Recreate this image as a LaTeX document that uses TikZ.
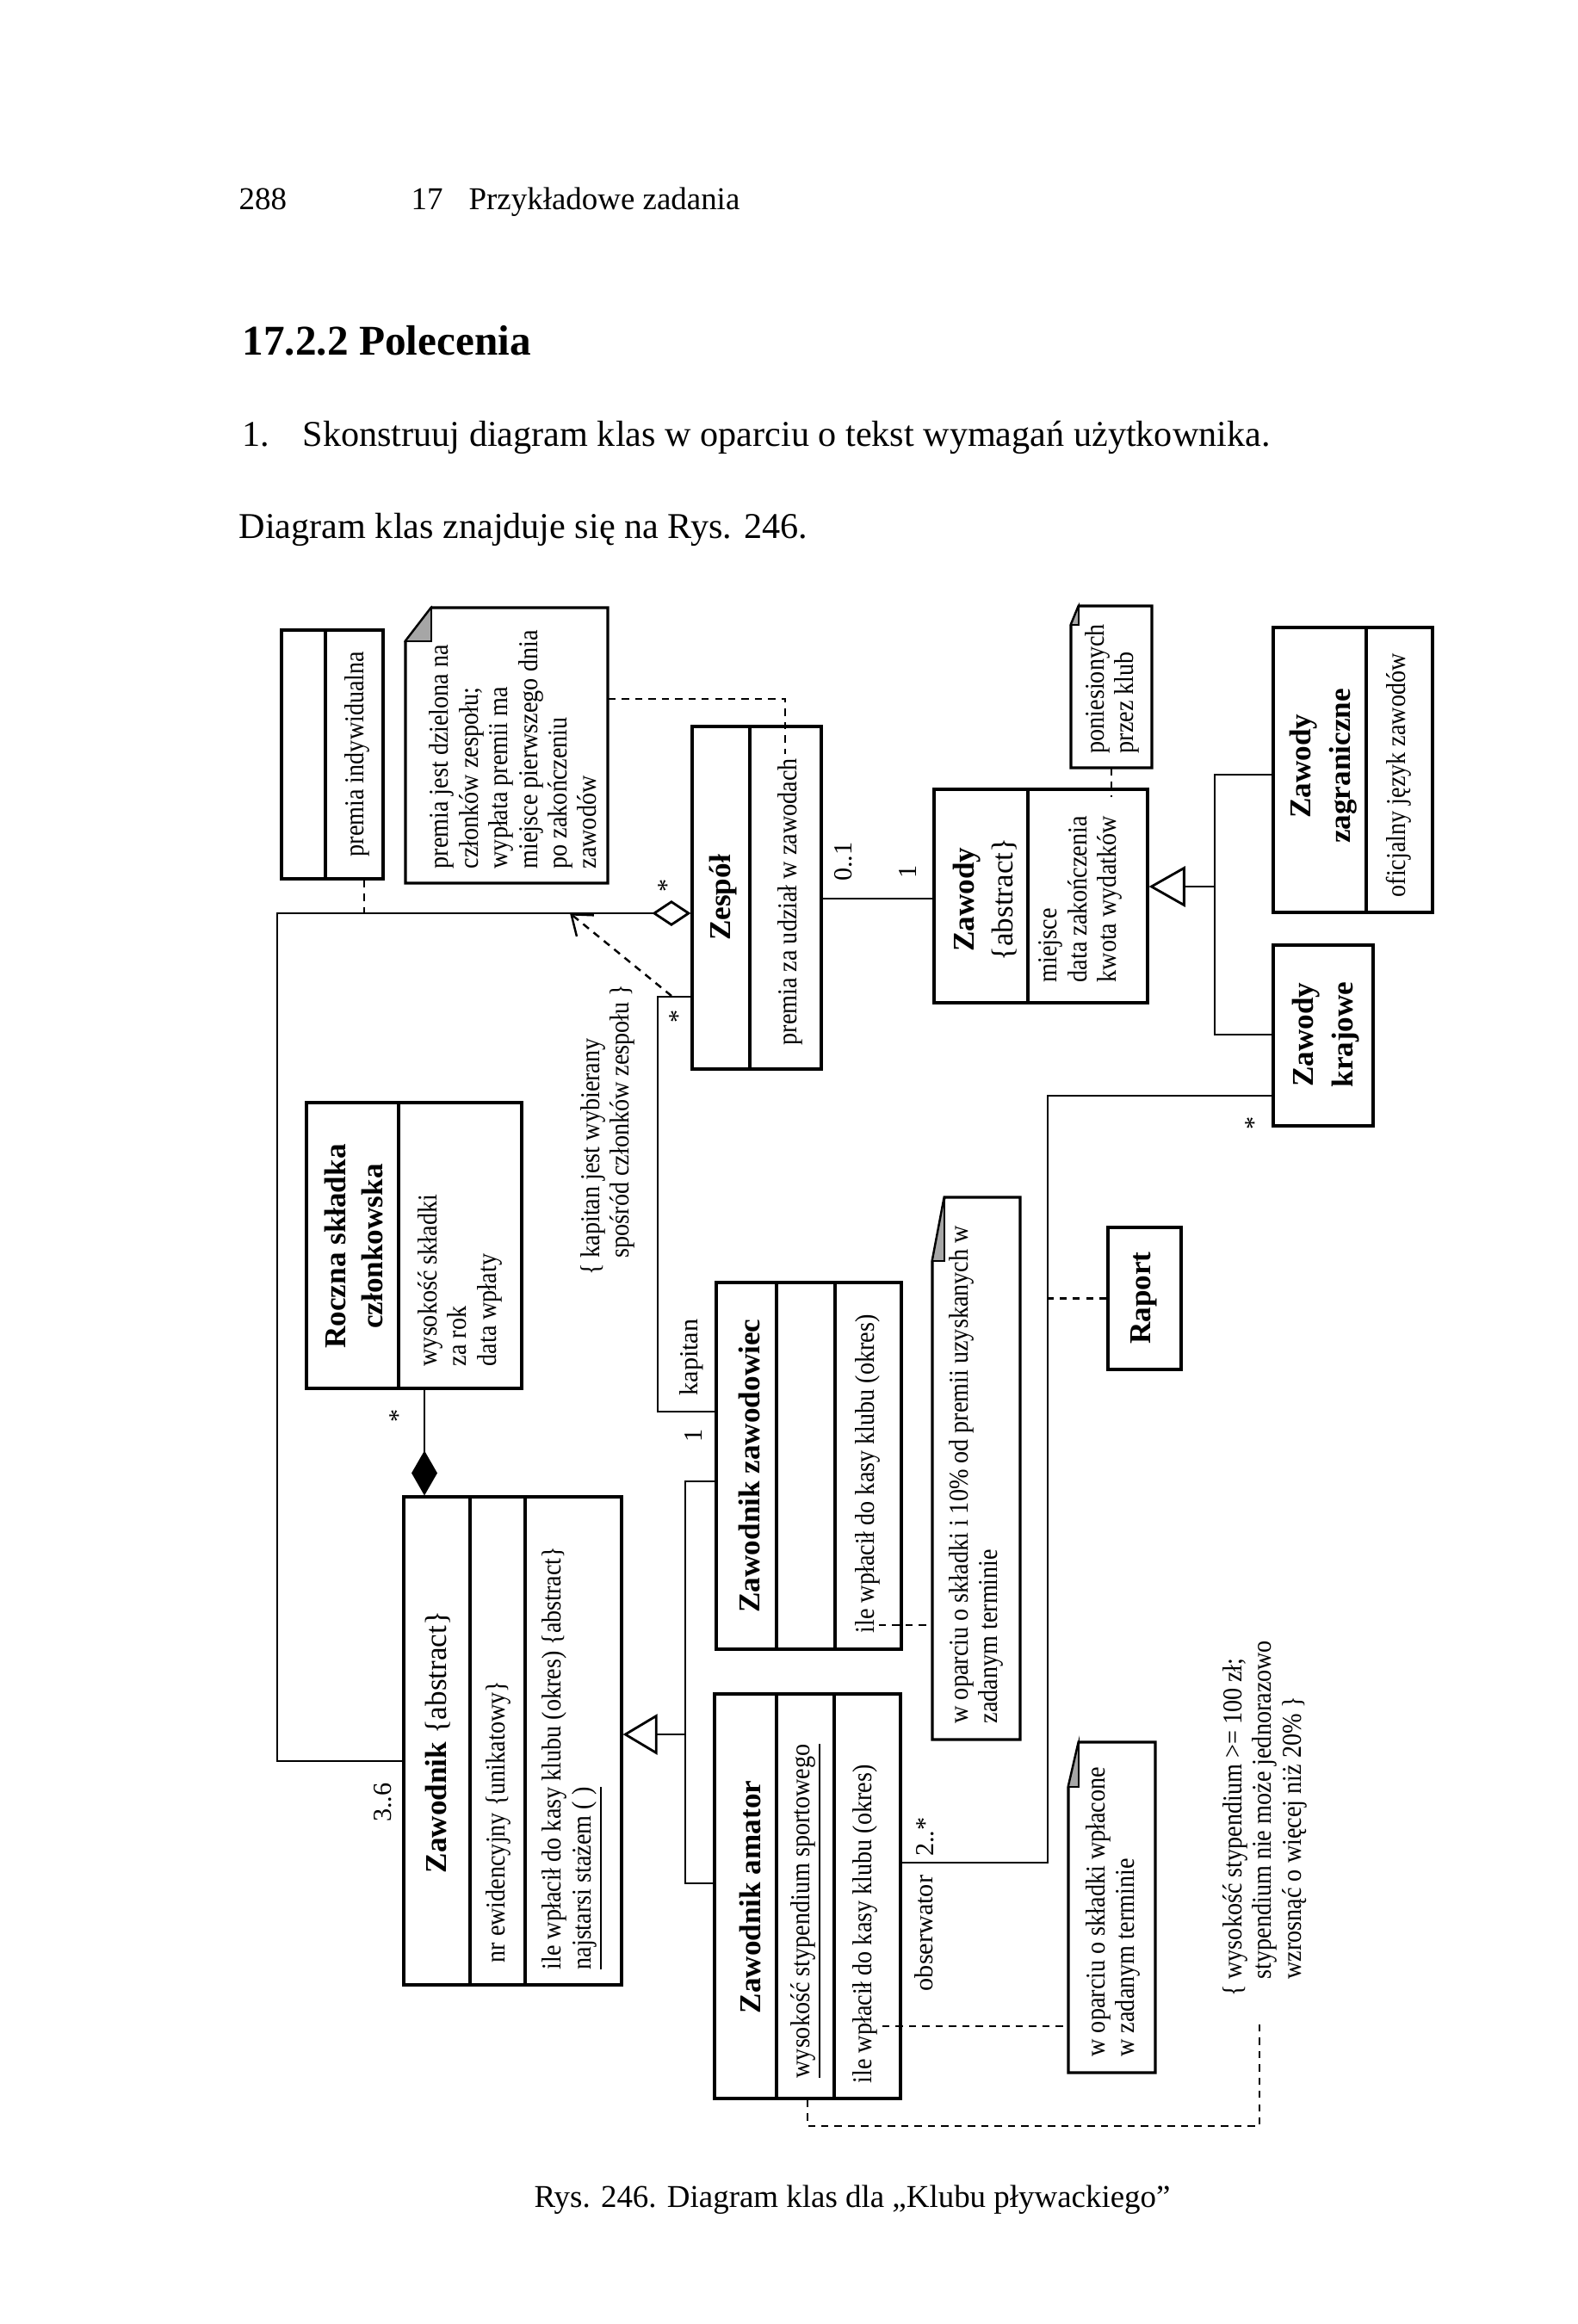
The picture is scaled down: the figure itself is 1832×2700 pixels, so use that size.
\documentclass[tikz,border=0pt]{standalone}
\usepackage{fontspec}
\setmainfont{Liberation Serif}
\usetikzlibrary{arrows.meta,fit}

\tikzset{
  classbox/.style={draw,line width=0.9pt,inner sep=0pt},
  notebody/.style={draw,line width=0.9pt,fill=white},
  cname/.style={rotate=90,inner sep=0pt,align=center,
    font=\fontsize{10}{13}\selectfont\bfseries},
  attr/.style={rotate=90,xscale=0.89,inner sep=0pt,anchor=west,align=left,
    font=\fontsize{9}{9.8}\selectfont},
  mult/.style={rotate=90,inner sep=0pt,font=\fontsize{8.6}{9.8}\selectfont},
  link/.style={line width=0.8pt},
  dashlink/.style={line width=0.7pt,dash pattern=on 2.4pt off 2pt},
  pagetext/.style={inner sep=0pt,anchor=base west,font=\fontsize{12}{14}\selectfont},
}
% class box from two corners (pixel units)
\newcommand{\umlclass}[5]{\node[classbox,fit={(#2,#3) (#4,#5)}] (#1) {};}
% note with folded corner
\newcommand{\umlnote}[7]{%
  \node[inner sep=0pt,fit={(#2,#3) (#4,#5)}] (#1) {};
  \draw[notebody] (#2,#3+#7) -- (#2+#6,#3) -- (#4,#3) -- (#4,#5) -- (#2,#5) -- cycle;
  \filldraw[fill=black!35,line width=0.5pt] (#2,#3+#7) -- (#2+#6,#3) -- (#2+#6,#3+#7) -- cycle;}

\begin{document}
\begin{tikzpicture}[x=0.01cm,y=-0.01cm]
\path[fill=white] (0,0) rectangle (1832,2700);
\useasboundingbox (0,0) rectangle (1832,2700);

% page text
\node[pagetext,font=\fontsize{10.5}{12}\selectfont] (pageno) at (277,244) {288};
\node[pagetext,font=\fontsize{10.5}{12}\selectfont] (runhead) at (477,244) {17\hspace{3mm}Przykładowe zadania};
\node[pagetext,font=\fontsize{14}{17}\selectfont\bfseries] (section) at (281,412) {17.2.2 Polecenia};
\node[pagetext] (itemno) at (281,518) {1.};
\node[pagetext] (item) at (351,518) {Skonstruuj diagram klas w oparciu o tekst wymagań użytkownika.};
\node[pagetext] (ref) at (277,625) {Diagram klas znajduje się na Rys. 246.};
\node[pagetext,anchor=base,font=\fontsize{10.5}{12}\selectfont] (caption) at (990,2564) {Rys. 246. Diagram klas dla „Klubu pływackiego”};

% classes
\umlclass{premia}{327}{732}{445}{1021}
\draw[classbox] (378,732) -- (378,1021);
\node[attr,anchor=center] (premia-a) at (415,876) {premia indywidualna};

\umlclass{zespol}{804}{844}{954}{1242}
\draw[classbox] (871,844) -- (871,1242);
\node[cname] (zespol-n) at (840,1043) {Zespół};
\node[attr] (zespol-a) at (918,1215) {premia za udział w zawodach};

\umlclass{zawody}{1085}{917}{1333}{1165}
\draw[classbox] (1194,917) -- (1194,1165);
\node[cname] (zawody-n) at (1144,1045) {Zawody\\\normalfont\{abstract\}};
\node[attr] (zawody-a) at (1255,1142) {miejsce\\data zakończenia\\kwota wydatków};

\umlclass{zagr}{1479}{729}{1664}{1060}
\draw[classbox] (1587,729) -- (1587,1060);
\node[cname] (zagr-n) at (1537,890) {Zawody\\zagraniczne};
\node[attr] (zagr-a) at (1625,1043) {oficjalny język zawodów};

\umlclass{kraj}{1479}{1098}{1595}{1308}
\node[cname] (kraj-n) at (1540,1202) {Zawody\\krajowe};

\umlclass{roczna}{356}{1281}{606}{1613}
\draw[classbox] (463,1281) -- (463,1613);
\node[cname,font=\fontsize{10}{12.2}\selectfont\bfseries] (roczna-n) at (411,1448) {Roczna składka\\członkowska};
\node[attr] (roczna-a) at (534,1588) {wysokość składki\\za rok\\data wpłaty};

\umlclass{zawodnik}{469}{1739}{722}{2306}
\draw[classbox] (546,1739) -- (546,2306) (610,1739) -- (610,2306);
\node[cname] (zawodnik-n) at (509,2024) {Zawodnik {\normalfont\{abstract\}}};
\node[attr] (zawodnik-a) at (579,2281) {nr ewidencyjny \{unikatowy\}};
\node[attr] (zawodnik-o) at (665,2289) {ile wpłacił do kasy klubu (okres) \{abstract\}\\\underline{najstarsi stażem ( )}};

\umlclass{zawodowiec}{832}{1490}{1047}{1916}
\draw[classbox] (902,1490) -- (902,1916) (970,1490) -- (970,1916);
\node[cname] (zawodowiec-n) at (870,1703) {Zawodnik zawodowiec};
\node[attr] (zawodowiec-o) at (1008,1898) {ile wpłacił do kasy klubu (okres)};

\umlclass{amator}{830}{1968}{1046}{2438}
\draw[classbox] (902,1968) -- (902,2438) (969,1968) -- (969,2438);
\node[cname] (amator-n) at (871,2204) {Zawodnik amator};
\node[attr] (amator-a) at (936,2415) {\underline{wysokość stypendium sportowego}};
\node[attr] (amator-o) at (1005,2421) {ile wpłacił do kasy klubu (okres)};

\umlclass{raport}{1287}{1426}{1372}{1591}
\node[cname] (raport-n) at (1329,1508) {Raport};

% notes
\umlnote{notepremia}{471}{706}{706}{1026}{30}{39}
\node[attr] (notepremia-t) at (596,1010) {premia jest dzielona na\\członków zespołu;\\wypłata premii ma\\miejsce pierwszego dnia\\po zakończeniu\\zawodów};
\umlnote{notekoszt}{1244}{704}{1338}{892}{9}{22}
\node[attr] (notekoszt-t) at (1292,876) {poniesionych\\przez klub};
\umlnote{notezawodowiec}{1083}{1391}{1185}{2021}{14}{74}
\node[attr] (notezawodowiec-t) at (1134,2003) {w oparciu o składki i 10\% od premii uzyskanych w\\zadanym terminie};
\umlnote{noteamator}{1241}{2024}{1342}{2408}{12}{52}
\node[attr] (noteamator-t) at (1293,2390) {w oparciu o składki wpłacone\\w zadanym terminie};

% constraints
\node[attr] (kapitan-c) at (706,1462) {\llap{\{ }kapitan jest wybierany\\spośród członków zespołu \}};
\node[attr] (stypendium-c) at (1469,2300) {\llap{\{ }wysokość stypendium >= 100 zł;\\stypendium nie może jednorazowo\\wzrosnąć o więcej niż 20\% \}};

% multiplicities and roles
\node[mult] (m-agg) at (775,1029) {*};
\node[mult] (m-kapz) at (788,1181) {*};
\node[mult] (m-zes) at (980,1001) {0..1};
\node[mult] (m-zaw) at (1055,1013) {1};
\node[mult] (m-skl) at (463,1645) {*};
\node[mult] (m-czl) at (445,2094) {3..6};
\node[mult] (r-kap) at (803,1577) {kapitan};
\node[mult] (m-kap) at (806,1668) {1};
\node[mult] (m-kraj) at (1457,1305) {*};
\node[mult] (m-obs) at (1075,2134) {2..*};
\node[mult] (r-obs) at (1073,2246) {obserwator};

% associations
\coordinate (aggY) at (0,1061);
\coordinate (aggL) at (322,1061);
\coordinate (aggB) at (322,2046);
\draw[link,{Diamond[open,length=12.8pt,width=8.5pt]}-] (zespol.west |- aggY) -- (aggL) -- (aggB) -- (zawodnik.west |- aggB);

\coordinate (zzY) at (0,1044);
\draw[link] (zespol.east |- zzY) -- (zawody.west |- zzY);

\coordinate (kapT) at (764,1158);
\coordinate (kapB) at (764,1640);
\draw[link] (zespol.west |- kapT) -- (kapT) -- (kapB) -- (zawodowiec.west |- kapB);

\coordinate (depS) at (780,1157);
\coordinate (depE) at (662,1061);
\draw[dashlink,-{Straight Barb[length=6pt,width=9pt]}] (depS) -- (depE);

\coordinate (compX) at (493,0);
\draw[link,-{Diamond[length=14.8pt,width=8.5pt]}] (roczna.south -| compX) -- (zawodnik.north -| compX);

% generalizations
\coordinate (genT) at (796,1721);
\coordinate (genM) at (796,2015);
\coordinate (genB) at (796,2188);
\draw[link] (zawodowiec.west |- genT) -- (genT) -- (genB) -- (amator.west |- genB);
\draw[link,-{Triangle[open,length=11.4pt,width=13.4pt]}] (genM) -- (zawodnik.east |- genM);

\coordinate (gzT) at (1411,900);
\coordinate (gzM) at (1411,1030);
\coordinate (gzB) at (1411,1202);
\draw[link] (zagr.west |- gzT) -- (gzT) -- (gzB) -- (kraj.west |- gzB);
\draw[link,-{Triangle[open,length=12pt,width=13.4pt]}] (gzM) -- (zawody.east |- gzM);

\coordinate (obsT) at (1217,1273);
\coordinate (obsB) at (1217,2164);
\draw[link] (kraj.west |- obsT) -- (obsT) -- (obsB) -- (amator.east |- obsB);
\draw[dashlink] (raport.west) -- (raport.west -| obsT);

% note links
\coordinate (piX) at (423,1061);
\draw[dashlink] (premia.south -| piX) -- (piX);
\coordinate (npY) at (912,812);
\coordinate (npE) at (912,876);
\draw[dashlink] (notepremia.east |- npY) -- (npY) -- (npE);
\coordinate (nkX) at (1291,926);
\draw[dashlink] (notekoszt.south -| nkX) -- (nkX);
\coordinate (nzS) at (1021,1888);
\draw[dashlink] (nzS) -- (notezawodowiec.west |- nzS);
\coordinate (naS) at (1025,2354);
\draw[dashlink] (naS) -- (noteamator.west |- naS);
\coordinate (stX) at (938,2470);
\coordinate (stY) at (1463,2470);
\coordinate (stE) at (1463,2346);
\draw[dashlink] (amator.south -| stX) -- (stX) -- (stY) -- (stE);
\end{tikzpicture}
\end{document}
